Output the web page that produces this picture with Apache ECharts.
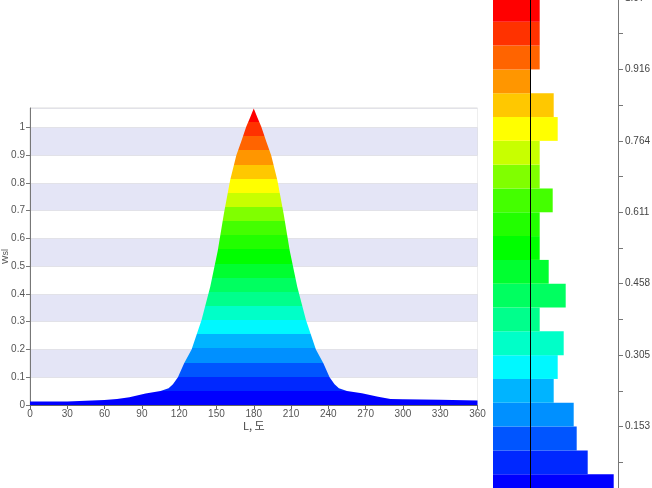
<!DOCTYPE html>
<html><head><meta charset="utf-8">
<script src="https://cdn.jsdelivr.net/npm/echarts@6/dist/echarts.min.js"></script>
<style>html,body{margin:0;padding:0;background:#fff}#c{width:652px;height:488px}</style>
</head><body><div id="c"></div>
<script>
// Distribution curve: angle L (deg) vs Wsl
const angles = [0, 29.9, 30, 59.9, 60, 70, 80, 93, 105, 111.5, 115, 119, 124, 130, 138, 145, 151, 156, 161, 166, 170, 174, 177, 180,
  183, 186, 190, 194, 199, 204, 209, 215, 222, 230, 236, 241, 245, 248.5, 255, 267, 280, 290, 299.9, 300, 329.9, 330, 360];
const wsl = [0.013, 0.013, 0.018, 0.018, 0.021, 0.022, 0.028, 0.041, 0.05, 0.06, 0.075, 0.10, 0.15, 0.20, 0.306, 0.426, 0.555, 0.69, 0.81, 0.90, 0.95, 1.003, 1.035, 1.068,
  1.035, 1.003, 0.95, 0.90, 0.81, 0.69, 0.555, 0.426, 0.306, 0.20, 0.15, 0.10, 0.075, 0.06, 0.05, 0.042, 0.03, 0.022, 0.021, 0.019, 0.019, 0.016, 0.016];

// Color scale: 21 bands from 0 to 1.07
const scaleMax = 1.07;
const bandColors = ['#0000ff', '#0028ff', '#0055ff', '#0090ff', '#00b4ff', '#00f8ff', '#00ffc8', '#00ff8c', '#00ff60', '#00ff30', '#00ff00',
  '#22ff00', '#44ff00', '#80ff00', '#c8ff00', '#ffff00', '#ffc800', '#ff9600', '#ff6400', '#ff3200', '#ff0000'];
// Histogram counts per band (extension beyond colour strip)
const bandCounts = [83, 57, 46, 43, 23, 27, 33, 9, 35, 18, 9, 9, 22, 9, 9, 27, 23, 0, 9, 9, 9];
const stripWidth = 37.7;
const cbTickLabels = ['0.153', '0.305', '0.458', '0.611', '0.764', '0.916', '1.07'];

const nb = bandColors.length;
const bw = scaleMax / nb;
const pieces = bandColors.map((c, i) => i === nb - 1 ? {gte: i * bw, lte: scaleMax + 0.001, color: c} : {gte: i * bw, lt: (i + 1) * bw, color: c});
const cats = bandColors.map((c, i) => 'b' + i);
const cbInterval = scaleMax / 7;

const chart = echarts.init(document.getElementById('c'), null, {renderer: 'canvas'});
chart.setOption({
  animation: false,
  backgroundColor: '#fff',
  grid: [
    {left: 30, right: 174.5, top: 108, bottom: 83, show: true, borderColor: '#dcdcdc', borderWidth: 1, backgroundColor: 'transparent',
      containLabel: false, outerBoundsMode: 'none'},
    {left: 493, width: 125, top: -2, height: 500, containLabel: false, outerBoundsMode: 'none'}
  ],
  xAxis: [
    {type: 'value', gridIndex: 0, min: 0, max: 360, interval: 30,
      name: 'L, 도', nameLocation: 'middle', nameGap: 15, nameMoveOverlap: false,
      nameTextStyle: {fontSize: 11, color: '#444', fontFamily: 'Noto Sans CJK KR'},
      axisLine: {show: true, lineStyle: {color: '#666'}},
      axisTick: {show: true, length: 4, lineStyle: {color: '#666'}},
      axisLabel: {fontSize: 10, color: '#555', margin: 4, fontFamily: 'Liberation Sans'},
      splitLine: {show: false}},
    {type: 'value', gridIndex: 1, min: 0, max: 125, show: false}
  ],
  yAxis: [
    {type: 'value', gridIndex: 0, min: 0, max: scaleMax, interval: 0.1,
      name: 'Wsl', nameLocation: 'middle', nameGap: 20, nameRotate: 90, nameMoveOverlap: false,
      nameTextStyle: {fontSize: 9, color: '#555', fontFamily: 'Liberation Sans'},
      axisLine: {show: true, lineStyle: {color: '#777'}},
      axisTick: {show: true, length: 4, lineStyle: {color: '#777'}},
      axisLabel: {fontSize: 10, color: '#555', margin: 5, showMaxLabel: false, fontFamily: 'Liberation Sans'},
      splitLine: {show: true, lineStyle: {color: '#e2e2e8'}},
      splitArea: {show: true, areaStyle: {color: ['#ffffff', '#e4e5f6']}}},
    {type: 'category', gridIndex: 1, data: cats, show: false},
    {type: 'value', gridIndex: 1, position: 'right', min: 0, max: scaleMax, interval: cbInterval,
      axisLine: {show: true, onZero: false, lineStyle: {color: '#777'}},
      axisTick: {show: true, length: 5, lineStyle: {color: '#777'}},
      minorTick: {show: true, splitNumber: 2, length: 5, lineStyle: {color: '#777'}},
      axisLabel: {fontSize: 10, color: '#444', margin: 7, fontFamily: 'Liberation Sans',
        formatter: v => { const k = Math.round(v / cbInterval); return k >= 1 ? cbTickLabels[k - 1] : ''; }},
      splitLine: {show: false}}
  ],
  visualMap: {type: 'piecewise', show: false, dimension: 1, seriesIndex: 0, pieces: pieces},
  series: [
    {type: 'line', xAxisIndex: 0, yAxisIndex: 0, data: angles.map((a, i) => [a, wsl[i]]),
      showSymbol: false, symbol: 'none', lineStyle: {width: 0}, areaStyle: {opacity: 1}, silent: true},
    {type: 'bar', xAxisIndex: 1, yAxisIndex: 1, stack: 'cb', barWidth: '100%', silent: true,
      data: bandColors.map(c => ({value: stripWidth, itemStyle: {color: c}})),
      markLine: {silent: true, symbol: 'none', label: {show: false}, lineStyle: {color: '#000', width: 1, type: 'solid'},
        data: [{xAxis: stripWidth}]}},
    {type: 'bar', xAxisIndex: 1, yAxisIndex: 1, stack: 'cb', barWidth: '100%', silent: true,
      data: bandCounts.map((v, i) => ({value: v, itemStyle: {color: bandColors[i]}}))}
  ]
});
</script></body></html>
